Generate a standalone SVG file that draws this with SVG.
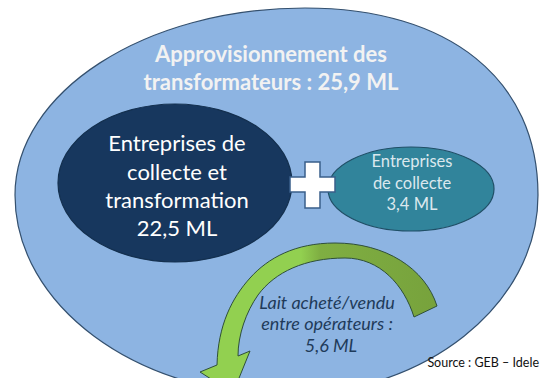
<svg xmlns="http://www.w3.org/2000/svg" width="541" height="378" viewBox="0 0 541 378">
  <defs>
    <style>
      .outline { stroke-width: 1.2; }
      .title { font-family: Lato, "Open Sans", sans-serif; font-weight: bold; font-size: 22px; fill: #f2f2f2; text-anchor: middle; }
      .big { font-family: Lato, "Open Sans", sans-serif; font-size: 22px; fill: #ffffff; text-anchor: middle; }
      .small { font-family: Lato, "Open Sans", sans-serif; font-size: 16.5px; fill: #dbe8ee; text-anchor: middle; }
      .flow { font-family: Lato, "Open Sans", sans-serif; font-style: italic; font-size: 18px; fill: #1f3b5a; text-anchor: middle; }
      .src { font-family: Lato, "Open Sans", sans-serif; font-size: 12.5px; fill: #111111; text-anchor: end; }
    </style>
    <linearGradient id="greenShade" gradientUnits="userSpaceOnUse" x1="200" y1="0" x2="440" y2="0">
      <stop offset="0" stop-color="#92d050"/>
      <stop offset="0.42" stop-color="#92d050"/>
      <stop offset="0.5" stop-color="#7fae42"/>
      <stop offset="1" stop-color="#77a23c"/>
    </linearGradient>
  </defs>

  <!-- total supply -->
  <g id="supply">
    <path class="outline" d="M 15 195 C 15 92 145 8 305 8 C 450 8 538 80 538 195 C 538 305 425 395 285 395 C 136 395 15 305 15 195 Z" fill="#8db4e2" stroke="#34506e"/>
    <text class="title" x="271" y="62">Approvisionnement des</text>
    <text class="title" x="271" y="90">transformateurs : 25,9 ML</text>
  </g>

  <!-- collecting + processing companies -->
  <g id="collect-transform">
    <ellipse class="outline" cx="175" cy="183" rx="117" ry="79" fill="#17375e" stroke="#14304f"/>
    <text class="big" x="177" y="151">Entreprises de</text>
    <text class="big" x="177" y="180">collecte et</text>
    <text class="big" x="177" y="208">transformation</text>
    <text class="big" x="177" y="236">22,5 ML</text>
  </g>

  <!-- collecting-only companies -->
  <g id="collect">
    <ellipse class="outline" cx="411" cy="189" rx="83" ry="42" fill="#31849b" stroke="#1f4f66"/>
    <text class="small" x="412" y="167">Entreprises</text>
    <text class="small" x="412" y="189">de collecte</text>
    <text class="small" x="412" y="210">3,4 ML</text>
  </g>

  <!-- plus sign -->
  <g id="plus">
    <path d="M305 162 H320 V177 H335 V192 H320 V208 H305 V192 H290 V177 H305 Z" fill="#ffffff" stroke="#3a5f8a" stroke-width="1.5"/>
  </g>

  <!-- exchange between operators -->
  <g id="connectors">
    <path d="M 437 306 C 425 268 385 243 335 243 C 295 243 268 258 250 278 C 232 298 218 325 217 365 L 200 372 L 233 393 L 250 351 L 238 356 C 238 335 246 312 258 295 C 275 272 305 258 345 258 C 380 258 404 285 414 317 Z" fill="url(#greenShade)" stroke="#2f4f3a" stroke-width="1"/>
  </g>
  <g id="exchange">
    <text class="flow" x="327" y="309">Lait acheté/vendu</text>
    <text class="flow" x="327" y="330">entre opérateurs :</text>
    <text class="flow" x="331" y="352">5,6 ML</text>
  </g>

  <text class="src" x="539" y="367">Source : GEB – Idele</text>
</svg>
